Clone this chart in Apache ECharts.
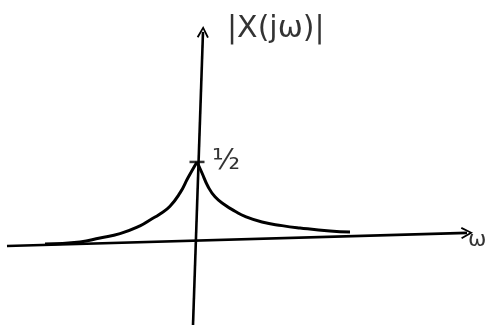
<!DOCTYPE html>
<html>
<head>
<meta charset="utf-8">
<style>
  html, body { margin: 0; padding: 0; background: #fff; }
  #chart { width: 490px; height: 328px; }
</style>
<script src="https://cdn.jsdelivr.net/npm/echarts@6/dist/echarts.min.js"></script>
</head>
<body>
<div id="chart"></div>
<script>
// Magnitude spectrum |X(jω)|: sharp peak of 1/2 at ω = 0, decaying on both sides.
const omegaValues = [-7.6, -5.85, -4.85, -3.85, -2.85, -2.35, -1.85, -1.35, -0.85, -0.45, 0,
                     0.25, 0.55, 0.9, 1.4, 1.9, 2.4, 3.25, 4.25, 5.15, 6.65, 7.65];
const magnitudeValues = [-0.019, -0.006, 0.019, 0.046, 0.095, 0.133, 0.171, 0.22, 0.304, 0.4, 0.5,
                         0.43, 0.345, 0.28, 0.228, 0.188, 0.155, 0.12, 0.097, 0.082, 0.063, 0.057];
const peakValue = 0.5;

// Hand-drawn axes (start and end of each arrow, in ω / magnitude units).
const omegaAxis = [[-9.5, -0.032], [13.5, 0.051]];
const magnitudeAxis = [[-0.2, -0.532], [0.3, 1.323]];

const axisLabels = ['|X(jω)|', 'ω'];
const peakLabel = '½';

const ink = '#000';
// Open chevron arrowhead, pointing up before rotation.
const chevron = 'path://M0,10 L5,0 L10,10 L8.6,10.8 L5,3.2 L1.4,10.8 Z';

const curve = omegaValues.map((w, i) => [w, magnitudeValues[i]]);
const peakIndex = omegaValues.indexOf(0);

const chart = echarts.init(document.getElementById('chart'));
chart.setOption({
  animation: false,
  backgroundColor: '#fff',
  grid: { left: 0, right: 0, top: 0, bottom: 0 },
  xAxis: { type: 'value', min: -9.85, max: 14.65, show: false },
  yAxis: { type: 'value', min: -0.551, max: 1.525, show: false },
  series: [
    {
      type: 'lines',
      coordinateSystem: 'cartesian2d',
      symbol: ['none', chevron],
      symbolSize: [14, 12],
      lineStyle: { color: ink, width: 2.6, opacity: 1, curveness: 0 },
      data: [
        { coords: omegaAxis },
        { coords: magnitudeAxis }
      ],
      z: 2
    },
    {
      // left branch, rising into the cusp
      type: 'line',
      data: curve.slice(0, peakIndex + 1),
      smooth: 0.5,
      showSymbol: false,
      lineStyle: { color: ink, width: 3 },
      z: 3
    },
    {
      // right branch, decaying away from the cusp
      type: 'line',
      data: curve.slice(peakIndex),
      smooth: 0.5,
      showSymbol: false,
      lineStyle: { color: ink, width: 3 },
      z: 3
    },
    {
      // tick mark on the magnitude axis at the peak value
      type: 'scatter',
      symbol: 'rect',
      symbolSize: [15, 2.5],
      itemStyle: { color: ink },
      data: [[0, peakValue]],
      z: 4
    },
    {
      type: 'scatter',
      symbolSize: 0,
      data: [
        { value: magnitudeAxis[1], label: { formatter: axisLabels[0], position: 'right', offset: [19, -3], fontSize: 30 } },
        { value: omegaAxis[1], label: { formatter: axisLabels[1], position: 'right', offset: [-4, 7], fontSize: 22 } },
        { value: [0, peakValue], label: { formatter: peakLabel, position: 'right', offset: [10, 0], fontSize: 29 } }
      ],
      label: { show: true, color: ink, fontFamily: 'DejaVu Sans', fontWeight: 'normal' },
      z: 5
    }
  ]
});
</script>
</body>
</html>
